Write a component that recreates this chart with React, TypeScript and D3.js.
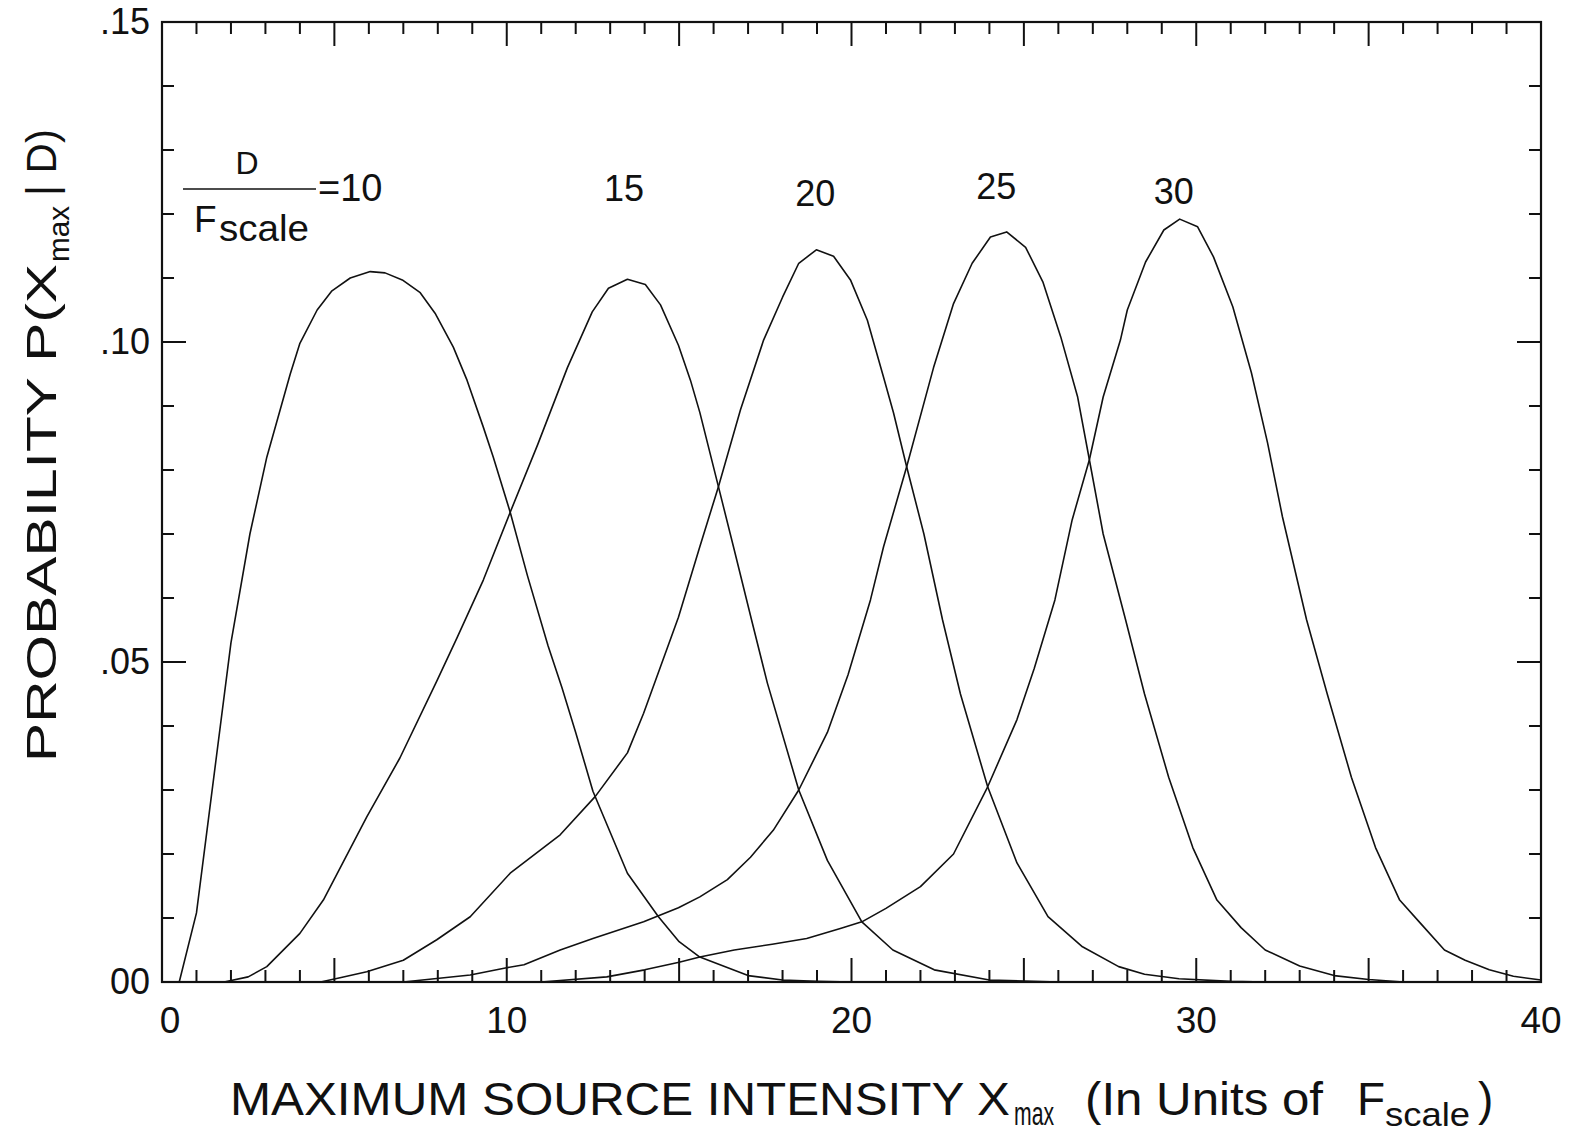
import * as d3 from 'd3';

// D / F_scale values labelling the five curves
const ratios = [10, 15, 20, 25, 30];

// x in units of F_scale
const xD10 = [0.5, 1.0, 2.0, 2.55, 3.04, 3.72, 4.0, 4.5, 4.93, 5.46, 6.04, 6.47, 6.97, 7.49, 7.92, 8.45, 8.85, 9.32, 9.61, 10.1, 10.6, 11.2, 11.6, 12.0, 12.5, 13.5, 14.4, 15.0, 15.6, 17.0, 18.0, 19.0, 20.0];
const yD10 = [0, 0.0108, 0.053, 0.07, 0.082, 0.095, 0.0998, 0.105, 0.108, 0.11, 0.111, 0.1108, 0.1097, 0.1077, 0.1045, 0.0992, 0.094, 0.0867, 0.082, 0.0734, 0.0635, 0.0525, 0.046, 0.039, 0.0298, 0.017, 0.0102, 0.0063, 0.0039, 0.001, 0.0003, 0.0001, 0];

const xD15 = [1.8, 2.5, 3.04, 4.0, 4.68, 5.94, 6.9, 7.97, 8.56, 9.32, 10.1, 10.9, 11.76, 12.48, 12.95, 13.5, 14.02, 14.46, 14.98, 15.33, 15.6, 16.14, 16.6, 17.1, 17.56, 18.47, 19.3, 20.3, 21.2, 22.4, 24.0, 26.0];
const yD15 = [0, 0.0008, 0.0024, 0.0076, 0.0128, 0.0258, 0.035, 0.047, 0.0538, 0.0628, 0.0734, 0.084, 0.096, 0.1047, 0.1084, 0.1098, 0.109, 0.1058, 0.0995, 0.094, 0.089, 0.0774, 0.0675, 0.0566, 0.0467, 0.03, 0.019, 0.0094, 0.005, 0.0019, 0.0003, 0];

const xD20 = [4.6, 5.1, 5.94, 7.0, 7.97, 8.94, 10.1, 11.55, 12.57, 13.5, 13.97, 14.98, 15.6, 16.14, 16.78, 17.45, 18.0, 18.47, 18.98, 19.48, 19.97, 20.46, 20.93, 21.22, 21.6, 22.1, 22.64, 23.16, 23.95, 24.8, 25.7, 26.7, 27.75, 28.5, 29.5, 31.0, 32.0];
const yD20 = [0, 0.0006, 0.0016, 0.0034, 0.0066, 0.0102, 0.017, 0.023, 0.029, 0.0358, 0.042, 0.057, 0.068, 0.0774, 0.0894, 0.1003, 0.107, 0.1123, 0.1144, 0.1134, 0.1097, 0.1034, 0.0945, 0.0889, 0.0805, 0.07, 0.0566, 0.045, 0.0305, 0.0186, 0.0102, 0.0055, 0.0024, 0.0012, 0.0005, 0.0001, 0];

const xD25 = [7.0, 8.94, 9.96, 10.5, 11.55, 12.5, 13.97, 14.98, 15.6, 16.4, 17.07, 17.73, 18.47, 19.3, 19.9, 20.55, 20.93, 21.6, 22.38, 22.96, 23.5, 24.03, 24.5, 25.05, 25.55, 26.07, 26.56, 26.9, 27.3, 27.95, 28.5, 29.2, 29.9, 30.6, 31.3, 32.0, 33.0, 34.0, 35.0, 36.0];
const yD25 = [0, 0.0011, 0.0022, 0.0027, 0.005, 0.0068, 0.0094, 0.0116, 0.0133, 0.016, 0.0195, 0.0237, 0.03, 0.039, 0.048, 0.0597, 0.068, 0.0805, 0.096, 0.106, 0.1123, 0.1164, 0.1172, 0.1148, 0.1094, 0.1008, 0.0914, 0.0816, 0.07, 0.0566, 0.045, 0.032, 0.021, 0.0128, 0.0085, 0.005, 0.0025, 0.001, 0.0004, 0];

const xD30 = [11.0, 12.9, 14.0, 15.0, 15.6, 16.6, 17.7, 18.7, 19.7, 20.3, 21.0, 22.0, 22.96, 23.95, 24.8, 25.3, 25.9, 26.4, 26.9, 27.3, 27.8, 28.0, 28.53, 29.06, 29.52, 30.04, 30.5, 31.06, 31.6, 32.07, 32.5, 33.2, 33.8, 34.5, 35.2, 35.9, 36.5, 37.2, 37.8, 38.5, 39.2, 40.0];
const yD30 = [0, 0.0008, 0.0019, 0.0031, 0.0039, 0.005, 0.0059, 0.0068, 0.0084, 0.0094, 0.0115, 0.0149, 0.02, 0.0305, 0.041, 0.049, 0.0597, 0.0722, 0.0816, 0.0914, 0.1003, 0.105, 0.1125, 0.1175, 0.1192, 0.118, 0.1133, 0.1055, 0.0952, 0.0842, 0.0727, 0.0566, 0.045, 0.032, 0.021, 0.0128, 0.0092, 0.005, 0.0034, 0.0019, 0.0009, 0.0003];

const xTickValues = [0, 10, 20, 30, 40];
const xTickLabels = ['0', '10', '20', '30', '40'];
const yTickValues = [0, 0.05, 0.1, 0.15];
const yTickLabels = ['00', '.05', '.10', '.15'];

const WIDTH = 1572;
const HEIGHT = 1136;
const FONT = '"Liberation Sans", Arial, Helvetica, sans-serif';

const series = [
  { ratio: ratios[0], xs: xD10, ys: yD10 },
  { ratio: ratios[1], xs: xD15, ys: yD15 },
  { ratio: ratios[2], xs: xD20, ys: yD20 },
  { ratio: ratios[3], xs: xD25, ys: yD25 },
  { ratio: ratios[4], xs: xD30, ys: yD30 },
];

export default function App() {
  const x = d3.scaleLinear().domain([0, 40]).range([162, 1541]);
  const y = d3.scaleLinear().domain([0, 0.15]).range([982, 22]);

  const line = d3
    .line<[number, number]>()
    .x((d) => x(d[0]))
    .y((d) => y(d[1]))
    .curve(d3.curveLinear);

  const [x0, x1] = x.range();
  const [yb, yt] = y.range();

  // minor ticks every unit / every 0.01, long ones every 5 / every 0.05
  const xMinor = d3.range(1, 40);
  const yMinor = d3.range(1, 15).map((i) => i / 100);

  // label spots above each peak (label x in data units, baseline in px)
  const peakLabels = [
    { x: 13.4, base: 201 },
    { x: 18.95, base: 206 },
    { x: 24.2, base: 199 },
    { x: 29.35, base: 204 },
  ];

  return (
    <svg
      width={WIDTH}
      height={HEIGHT}
      viewBox={`0 0 ${WIDTH} ${HEIGHT}`}
      style={{ position: 'absolute', left: 0, top: 0, background: '#fff' }}
      fontFamily={FONT}
    >
      <rect x={0} y={0} width={WIDTH} height={HEIGHT} fill="#fff" />

      {/* ticks, all pointing inward */}
      <g stroke="#111" strokeWidth={2}>
        {xMinor.map((v) => {
          const len = v % 5 === 0 ? 24 : 12;
          return (
            <g key={`xt${v}`}>
              <line x1={x(v)} x2={x(v)} y1={yb} y2={yb - len} />
              <line x1={x(v)} x2={x(v)} y1={yt} y2={yt + len} />
            </g>
          );
        })}
        {yMinor.map((v, i) => {
          const len = (i + 1) % 5 === 0 ? 24 : 12;
          return (
            <g key={`yt${i}`}>
              <line x1={x0} x2={x0 + len} y1={y(v)} y2={y(v)} />
              <line x1={x1} x2={x1 - len} y1={y(v)} y2={y(v)} />
            </g>
          );
        })}
      </g>

      <rect x={x0} y={yt} width={x1 - x0} height={yb - yt} fill="none" stroke="#111" strokeWidth={2.2} />

      {/* curves */}
      <g fill="none" stroke="#111" strokeWidth={1.6} strokeLinejoin="round">
        {series.map((s) => (
          <path key={s.ratio} d={line(s.xs.map((v, i) => [v, s.ys[i]] as [number, number])) ?? ''} />
        ))}
      </g>

      {/* tick labels */}
      <g fill="#111" fontSize={37} textAnchor="middle">
        {xTickValues.map((v, i) => (
          <text key={`xl${v}`} x={x(v) + (i === 0 ? 8 : 0)} y={1033}>
            {xTickLabels[i]}
          </text>
        ))}
      </g>
      <g fill="#111" fontSize={36} textAnchor="end">
        {yTickValues.map((v, i) => (
          <text key={`yl${v}`} x={150} y={y(v) + 12}>
            {yTickLabels[i]}
          </text>
        ))}
      </g>

      {/* curve labels */}
      <g fill="#111">
        <text x={247} y={174} fontSize={32} textAnchor="middle">D</text>
        <line x1={183} x2={316} y1={189} y2={189} stroke="#111" strokeWidth={1.6} />
        <text x={194} y={232} fontSize={37}>F</text>
        <text x={219} y={241} fontSize={36} textLength={90} lengthAdjust="spacingAndGlyphs">scale</text>
        <text x={318} y={201} fontSize={38}>={ratios[0]}</text>
        {peakLabels.map((p, i) => (
          <text key={`pl${i}`} x={x(p.x)} y={p.base} fontSize={36} textAnchor="middle">
            {ratios[i + 1]}
          </text>
        ))}
      </g>

      {/* x axis title */}
      <g fill="#111">
        <text x={230} y={1115} fontSize={46} textLength={780} lengthAdjust="spacingAndGlyphs">
          MAXIMUM SOURCE INTENSITY X
        </text>
        <text x={1014} y={1125} fontSize={33} textLength={40} lengthAdjust="spacingAndGlyphs">max</text>
        <text x={1085} y={1115} fontSize={46} textLength={238} lengthAdjust="spacingAndGlyphs">
          (In Units of
        </text>
        <text x={1357} y={1115} fontSize={46}>F</text>
        <text x={1385} y={1126} fontSize={33} textLength={85} lengthAdjust="spacingAndGlyphs">scale</text>
        <text x={1478} y={1115} fontSize={46}>)</text>
      </g>

      {/* y axis title */}
      <g fill="#111" transform="translate(56, 762) rotate(-90)">
        <text x={0} y={0} fontSize={42} textLength={498} lengthAdjust="spacingAndGlyphs">
          PROBABILITY P(X
        </text>
        <text x={500} y={13} fontSize={30} textLength={56} lengthAdjust="spacingAndGlyphs">max</text>
        <text x={566} y={0} fontSize={42}>| D)</text>
      </g>
    </svg>
  );
}
